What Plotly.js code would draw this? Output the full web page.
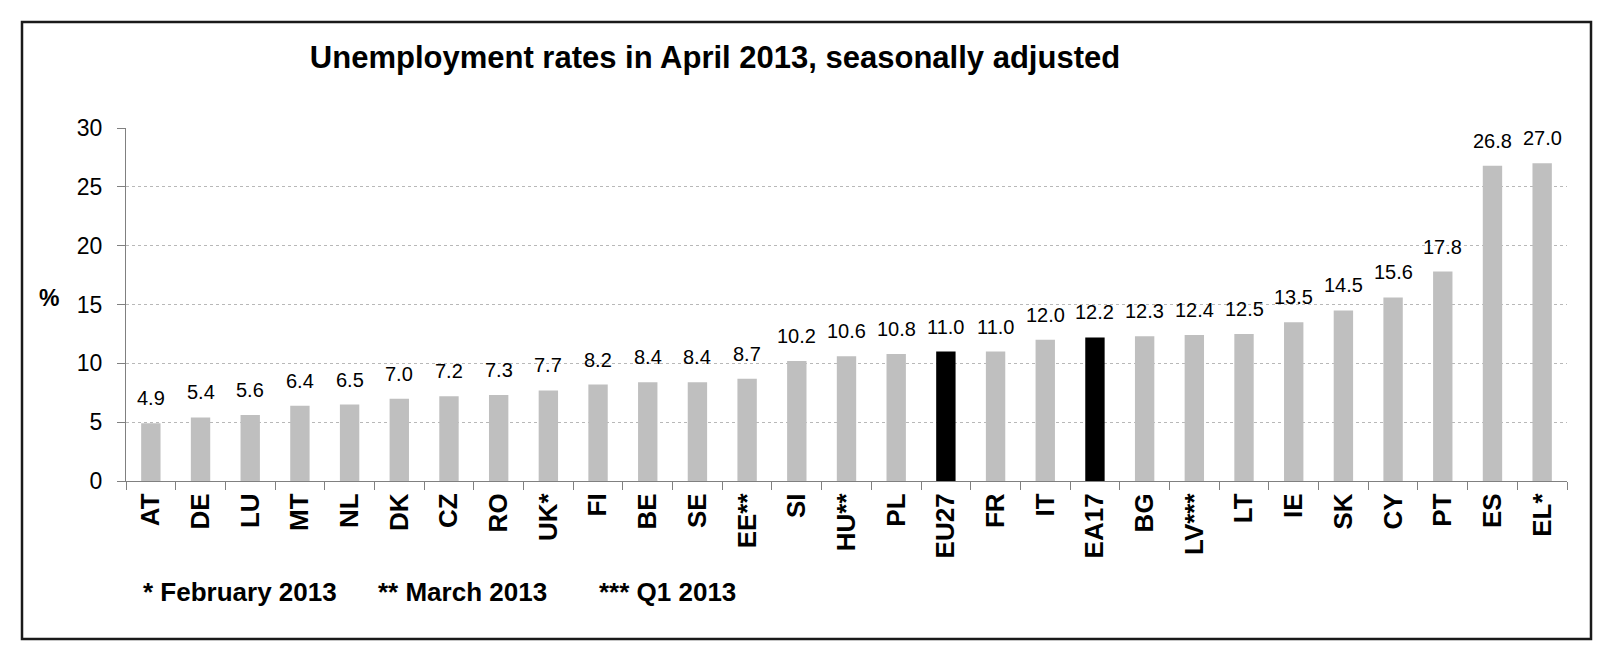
<!DOCTYPE html>
<html>
<head>
<meta charset="utf-8">
<script src="https://cdn.plot.ly/plotly-3.0.1.min.js"></script>
<style>html,body{margin:0;padding:0;background:#fff;}#chart{width:1614px;height:664px;}</style>
</head>
<body>
<div id="chart"></div>
<script>
const countries = ["AT","DE","LU","MT","NL","DK","CZ","RO","UK*","FI","BE","SE","EE**","SI","HU**","PL","EU27","FR","IT","EA17","BG","LV***","LT","IE","SK","CY","PT","ES","EL*"];
const rates = [4.9,5.4,5.6,6.4,6.5,7.0,7.2,7.3,7.7,8.2,8.4,8.4,8.7,10.2,10.6,10.8,11.0,11.0,12.0,12.2,12.3,12.4,12.5,13.5,14.5,15.6,17.8,26.8,27.0];
const aggregates = ["EU27","EA17"];
const yTicks = [0,5,10,15,20,25,30];
const footnotes = ["* February 2013","** March 2013","*** Q1 2013"];
const titleText = "Unemployment rates in April 2013, seasonally adjusted";

const FONT = "Liberation Sans, Arial, Helvetica, sans-serif";
// plot area in pixels
const L = 126, R = 1567, T = 128, B = 481, W = 1614, H = 664;
const px = x => (x - L) / (R - L);
const py = y => (B - y) / (B - T);

const colors = countries.map(c => aggregates.includes(c) ? "#000000" : "#bfbfbf");

const trace = {
  type: "bar",
  x: countries,
  y: rates,
  marker: {color: colors, line: {width: 0}},
  hoverinfo: "x+y"
};

const annotations = countries.map((c, i) => ({
  x: c, y: rates[i], xref: "x", yref: "y",
  text: rates[i].toFixed(1), showarrow: false,
  yanchor: "bottom", yshift: 12,
  font: {family: FONT, size: 20, color: "#000"}
}));

annotations.push({
  xref: "paper", yref: "paper", x: px(49), y: py(298),
  text: "%", showarrow: false, xanchor: "center", yanchor: "middle",
  font: {family: FONT, size: 23, color: "#000", weight: "bold"}
});

const footX = [141, 376, 597];
footnotes.forEach((t, i) => annotations.push({
  xref: "paper", yref: "paper", x: px(footX[i]), y: py(592),
  text: t, showarrow: false, xanchor: "left", yanchor: "middle",
  font: {family: FONT, size: 26, color: "#000", weight: "bold"}
}));

const layout = {
  width: W, height: H,
  margin: {l: L, r: W - R, t: T, b: H - B, pad: 0},
  paper_bgcolor: "#ffffff", plot_bgcolor: "#ffffff",
  showlegend: false,
  bargap: 0.61,
  title: {
    text: titleText, xref: "container", yref: "container",
    x: 715 / W, xanchor: "center", y: 1 - 57 / H, yanchor: "middle",
    font: {family: FONT, size: 31, color: "#000", weight: "bold"}
  },
  xaxis: {
    type: "category",
    tickangle: -90,
    tickson: "boundaries",
    ticks: "outside", ticklen: 8, tickcolor: "#808080", tickwidth: 1,
    showline: true, linecolor: "#808080", linewidth: 1,
    showgrid: false, zeroline: false,
    ticklabelstandoff: 1,
    tickfont: {family: FONT, size: 26, color: "#000", weight: "bold"},
    fixedrange: true
  },
  yaxis: {
    range: [0, 30],
    tickvals: yTicks,
    ticktext: yTicks.map(String),
    ticks: "outside", ticklen: 8, tickcolor: "#808080", tickwidth: 1,
    showline: true, linecolor: "#808080", linewidth: 1,
    showgrid: true, gridcolor: "#b8b8b8", griddash: "dot", gridwidth: 1,
    zeroline: false,
    ticklabelstandoff: 10,
    tickfont: {family: FONT, size: 23, color: "#000"},
    fixedrange: true
  },
  annotations: annotations,
  shapes: [{
    type: "rect", xref: "paper", yref: "paper",
    x0: px(22), x1: px(1591), y0: py(639), y1: py(22),
    line: {color: "#1a1a1a", width: 2.5}, fillcolor: "rgba(0,0,0,0)", layer: "below"
  }]
};

Plotly.newPlot("chart", [trace], layout, {displayModeBar: false, staticPlot: true});
</script>
</body>
</html>
